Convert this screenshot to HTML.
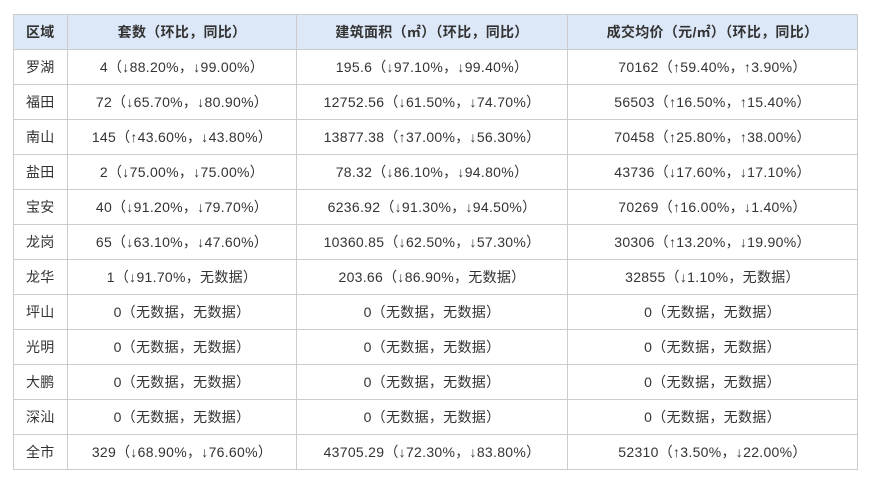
<!DOCTYPE html>
<html><head><meta charset="utf-8"><style>
body{margin:0;background:#fff;width:875px;height:487px;overflow:hidden}
table{position:absolute;left:13px;top:14px;border-collapse:collapse;font-family:"Liberation Sans","Noto Sans CJK SC",sans-serif;font-size:14px;color:#333;letter-spacing:0.3px}
td,th{border:1px solid #ccc;height:34px;padding:0;text-align:center}
th{background:#dce8f7;font-weight:bold;height:34px}
td:first-child,th:first-child{text-align:left;padding-left:12px}
</style></head><body>
<table>
<colgroup><col style="width:54px"><col style="width:229px"><col style="width:271px"><col style="width:290px"></colgroup>
<tr><th>区域</th><th>套数（环比，同比）</th><th>建筑面积（㎡）（环比，同比）</th><th>成交均价（元/㎡）（环比，同比）</th></tr>
<tr><td>罗湖</td><td>4（↓88.20%，↓99.00%）</td><td>195.6（↓97.10%，↓99.40%）</td><td>70162（↑59.40%，↑3.90%）</td></tr>
<tr><td>福田</td><td>72（↓65.70%，↓80.90%）</td><td>12752.56（↓61.50%，↓74.70%）</td><td>56503（↑16.50%，↑15.40%）</td></tr>
<tr><td>南山</td><td>145（↑43.60%，↓43.80%）</td><td>13877.38（↑37.00%，↓56.30%）</td><td>70458（↑25.80%，↑38.00%）</td></tr>
<tr><td>盐田</td><td>2（↓75.00%，↓75.00%）</td><td>78.32（↓86.10%，↓94.80%）</td><td>43736（↓17.60%，↓17.10%）</td></tr>
<tr><td>宝安</td><td>40（↓91.20%，↓79.70%）</td><td>6236.92（↓91.30%，↓94.50%）</td><td>70269（↑16.00%，↓1.40%）</td></tr>
<tr><td>龙岗</td><td>65（↓63.10%，↓47.60%）</td><td>10360.85（↓62.50%，↓57.30%）</td><td>30306（↑13.20%，↓19.90%）</td></tr>
<tr><td>龙华</td><td>1（↓91.70%，无数据）</td><td>203.66（↓86.90%，无数据）</td><td>32855（↓1.10%，无数据）</td></tr>
<tr><td>坪山</td><td>0（无数据，无数据）</td><td>0（无数据，无数据）</td><td>0（无数据，无数据）</td></tr>
<tr><td>光明</td><td>0（无数据，无数据）</td><td>0（无数据，无数据）</td><td>0（无数据，无数据）</td></tr>
<tr><td>大鹏</td><td>0（无数据，无数据）</td><td>0（无数据，无数据）</td><td>0（无数据，无数据）</td></tr>
<tr><td>深汕</td><td>0（无数据，无数据）</td><td>0（无数据，无数据）</td><td>0（无数据，无数据）</td></tr>
<tr><td>全市</td><td>329（↓68.90%，↓76.60%）</td><td>43705.29（↓72.30%，↓83.80%）</td><td>52310（↑3.50%，↓22.00%）</td></tr>
</table>
</body></html>
